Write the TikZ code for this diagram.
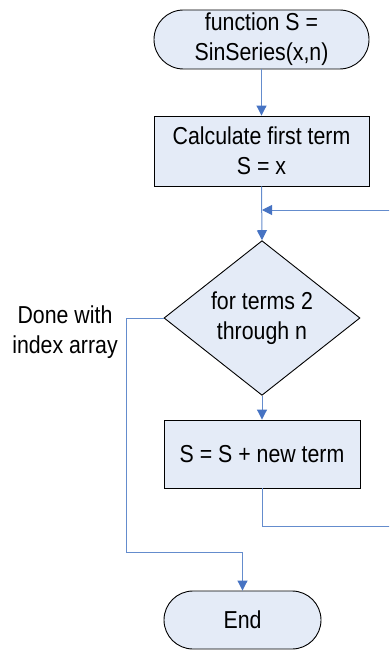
\documentclass[tikz,border=0pt]{standalone}
\usepackage{fontspec}
\setmainfont{Liberation Sans}[FakeStretch=0.87]
\usetikzlibrary{shapes.geometric,arrows.meta}
\definecolor{boxfill}{RGB}{228,235,247}
\definecolor{conn}{RGB}{100,140,205}
\definecolor{tipc}{RGB}{70,115,195}
\tikzset{
  every node/.style={font=\fontsize{24.5}{30}\selectfont, align=center, inner sep=0pt},
  term/.style={draw=black, line width=0.9pt, fill=boxfill, rectangle, minimum width=#1},
  procbox/.style={draw=black, line width=0.9pt, fill=boxfill, rectangle},
  decbox/.style={draw=black, line width=0.9pt, fill=boxfill, diamond, minimum width=196pt, minimum height=146pt},
  conline/.style={draw=conn, line width=1pt},
  conarrow/.style={conline, -{Triangle[length=10pt,width=10pt,color=tipc]}}
}
\begin{document}
\begin{tikzpicture}[x=1pt,y=-1pt]
\useasboundingbox (0,0) rectangle (389,650);
\clip (0,0) rectangle (389,650);
\node[term=215pt, minimum height=59pt, rounded corners=29.5pt] (start) at (261.5,39.5) {function S =\\SinSeries(x,n)};
\node[procbox, minimum width=215pt, minimum height=70pt] (calc) at (261.5,151) {Calculate first term\\S = x};
\node[decbox] (dec) at (262,318) {for terms 2\\through n};
\node[procbox, minimum width=196pt, minimum height=68pt] (add) at (262,454) {S = S + new term};
\node[term=157pt, minimum height=58pt, rounded corners=29pt] (end) at (242.5,620) {End};
\node (done) at (65,332) {Done with\\index array};
\coordinate (mg) at (262,210);
\coordinate (lt) at (400,210);
\coordinate (lb) at (400,526);
\coordinate (dl) at (126,552);
\draw[conarrow] (start.south) -- (calc.north);
\draw[conarrow] (calc.south) -- (dec.north);
\draw[conarrow] (add.south) |- (lb) -- (lt) -- (mg);
\draw[conarrow] (dec.south) -- (add.north);
\draw[conarrow] (dec.west) -| (dl) -| (end.north);
\end{tikzpicture}
\end{document}
